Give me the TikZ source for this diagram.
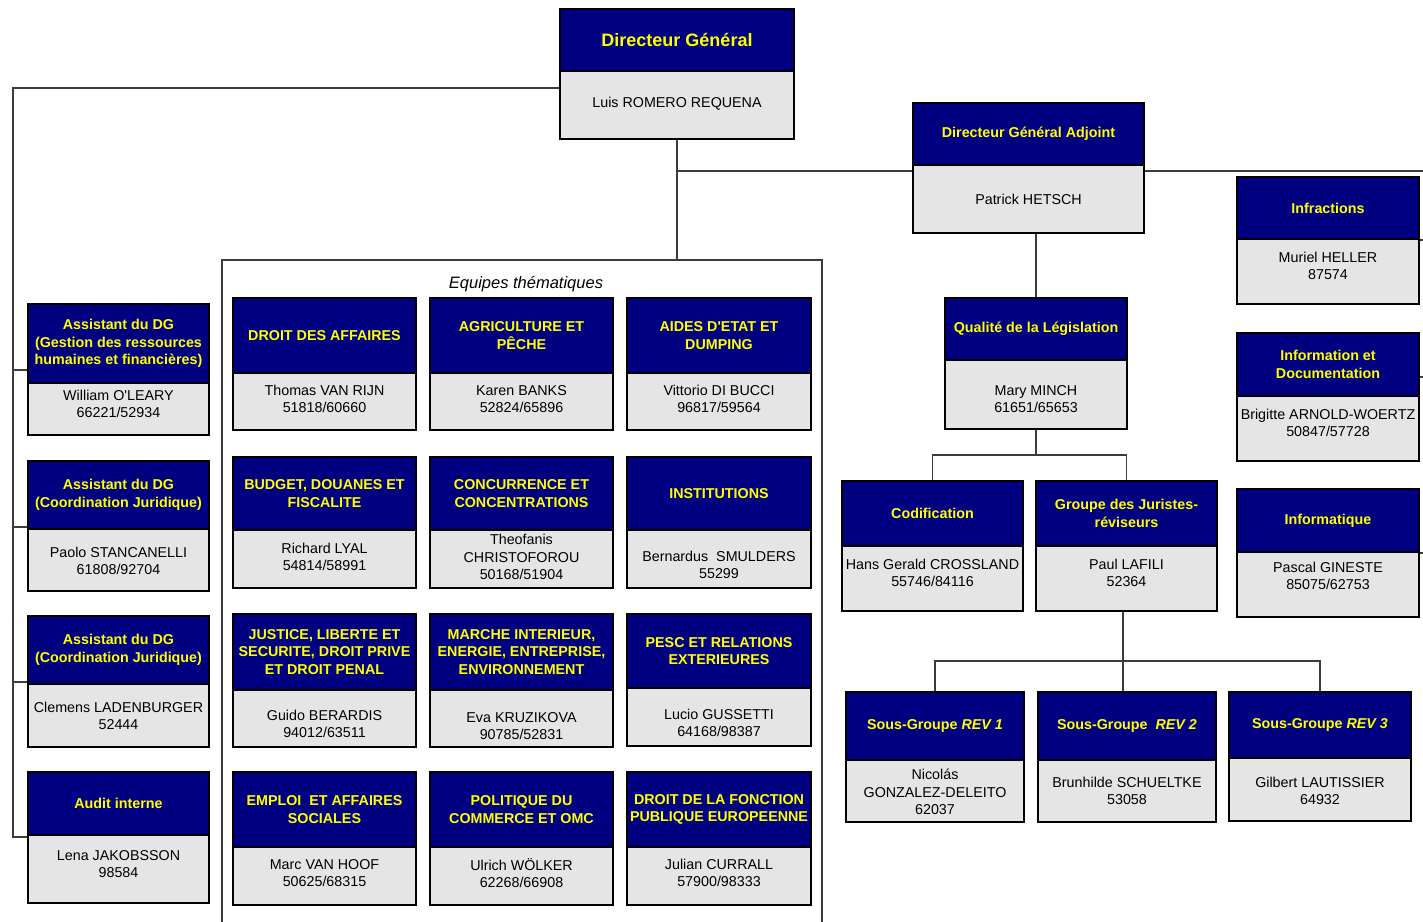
\documentclass[tikz,border=0pt]{standalone}
\usepackage{fontspec}
\setmainfont{Liberation Sans}
\newfontfamily\plainarial{Liberation Sans}
\newcommand\sq{{\plainarial\char"27}}
\usetikzlibrary{fit}
\definecolor{navy}{RGB}{0,0,128}
\definecolor{ylw}{RGB}{255,255,0}
\definecolor{lgray}{RGB}{229,229,229}
\definecolor{conn}{RGB}{60,60,60}
\tikzset{
  boxframe/.style={draw=black, line width=2pt, inner sep=0pt},
  titletext/.style={text=ylw, font=\bfseries\fontsize{14.3}{17.5}\selectfont, align=center, inner sep=0pt},
  bodytext/.style={text=black, font=\fontsize{14.3}{17.5}\selectfont, align=center, inner sep=0pt},
  connector/.style={draw=conn, line width=1.2pt},
  framebox/.style={draw=conn, line width=2pt, inner sep=0pt},
}
% name, x1, y1, x2, y2, ydiv, ybody, title, body
\newcommand\obox[9]{%
  \fill[lgray] (#2,#3) rectangle (#4,#5);
  \fill[navy] (#2,#3) rectangle (#4,#6);
  \draw[line width=1.5pt] (#2,#6) -- (#4,#6);
  \node[boxframe, fit={(#2,#3) (#4,#5)}] (#1) {};
  \node[titletext] (#1-t) at ({(#2+#4)/2},{(#3+#6)/2}) {#8};
  \node[bodytext] (#1-b) at ({(#2+#4)/2},#7) {#9};
}
\begin{document}
\begin{tikzpicture}[x=1pt,y=-1pt]
\useasboundingbox (0,0) rectangle (1423,921);
\fill[white] (0,0) rectangle (1423,921);

% frame of thematic teams
\node[framebox, fit={(222,260) (822,930)}] (frame) {};
\node[font=\itshape\fontsize{16.5}{20}\selectfont, inner sep=0pt] (eqt) at (526,284) {Equipes thématiques};

% Directeur general
\fill[lgray] (560,9) rectangle (794,139);
\fill[navy] (560,9) rectangle (794,71);
\draw[line width=1.5pt] (560,71) -- (794,71);
\node[boxframe, fit={(560,9) (794,139)}] (dg) {};
\node[titletext, font=\bfseries\fontsize{18}{22}\selectfont] (dg-t) at (677,40) {Directeur Général};
\node[bodytext] (dg-b) at (677,104) {Luis ROMERO REQUENA};

\obox{dga}{913}{103}{1144}{233}{165}{199}{Directeur Général Adjoint}{Patrick HETSCH}

% right column
\obox{inf}{1237}{177}{1419}{304}{239}{266}{Infractions}{Muriel HELLER\\87574}
\obox{idoc}{1237}{333}{1419}{461}{396}{423}{Information et\\Documentation}{Brigitte ARNOLD-WOERTZ\\50847/57728}
\obox{infq}{1237}{489}{1419}{617}{552}{576}{Informatique}{Pascal GINESTE\\85075/62753}

% legislation quality
\obox{qual}{945}{298}{1127}{429}{360}{399}{Qualité de la Législation}{Mary MINCH\\61651/65653}
\obox{cod}{842}{481}{1023}{611}{546}{573}{Codification}{Hans Gerald CROSSLAND\\55746/84116}
\obox{grp}{1036}{481}{1217}{611}{546}{573}{Groupe des Juristes-\\réviseurs}{Paul LAFILI\\52364}
\obox{sgA}{846}{692}{1024}{822}{760}{792}{Sous-Groupe \textit{REV 1}}{Nicolás\\GONZALEZ-DELEITO\\62037}
\obox{sgB}{1038}{692}{1216}{822}{760}{791}{Sous-Groupe~ \textit{REV 2}}{Brunhilde SCHUELTKE\\53058}
\obox{sgC}{1229}{692}{1411}{821}{758}{791}{Sous-Groupe \textit{REV 3}}{Gilbert LAUTISSIER\\64932}

% left column
\obox{asA}{28}{304}{209}{435}{383}{404}{Assistant du DG\\(Gestion des ressources\\humaines et financières)}{William O\sq LEARY\\66221/52934}
\obox{asB}{28}{461}{209}{591}{529}{561}{Assistant du DG\\(Coordination Juridique)}{Paolo STANCANELLI\\61808/92704}
\obox{asC}{28}{616}{209}{747}{684}{716}{Assistant du DG\\(Coordination Juridique)}{Clemens LADENBURGER\\52444}
\obox{aud}{28}{772}{209}{903}{835}{864}{Audit interne}{Lena JAKOBSSON\\98584}

% thematic teams
\obox{tAa}{233}{298}{416}{430}{373}{399}{DROIT DES AFFAIRES}{Thomas VAN RIJN\\51818/60660}
\obox{tAb}{430}{298}{613}{430}{373}{399}{AGRICULTURE ET\\PÊCHE}{Karen BANKS\\52824/65896}
\obox{tAc}{627}{298}{811}{430}{373}{399}{AIDES D\sq ETAT ET\\DUMPING}{Vittorio DI BUCCI\\96817/59564}
\obox{tBa}{233}{457}{416}{588}{530}{557}{BUDGET, DOUANES ET\\FISCALITE}{Richard LYAL\\54814/58991}
\obox{tBb}{430}{457}{613}{588}{530}{557}{CONCURRENCE ET\\CONCENTRATIONS}{Theofanis\\CHRISTOFOROU\\50168/51904}
\obox{tBc}{627}{457}{811}{588}{530}{565}{INSTITUTIONS}{Bernardus~ SMULDERS\\55299}
\obox{tCa}{233}{614}{416}{747}{690}{724}{JUSTICE, LIBERTE ET\\SECURITE, DROIT PRIVE\\ET DROIT PENAL}{Guido BERARDIS\\94012/63511}
\obox{tCb}{430}{614}{613}{747}{690}{726}{MARCHE INTERIEUR,\\ENERGIE, ENTREPRISE,\\ENVIRONNEMENT}{Eva KRUZIKOVA\\90785/52831}
\obox{tCc}{627}{614}{811}{746}{688}{723}{PESC ET RELATIONS\\EXTERIEURES}{Lucio GUSSETTI\\64168/98387}
\obox{tDa}{233}{772}{416}{905}{847}{873}{EMPLOI~ ET AFFAIRES\\SOCIALES}{Marc VAN HOOF\\50625/68315}
\obox{tDb}{430}{772}{613}{905}{847}{873}{POLITIQUE DU\\COMMERCE ET OMC}{Ulrich WÖLKER\\62268/66908}
\obox{tDc}{627}{772}{811}{905}{847}{873}{DROIT DE LA FONCTION\\PUBLIQUE EUROPEENNE}{Julian CURRALL\\57900/98333}

% connectors: left spine
\coordinate (Ltop) at (13,88);
\coordinate (Lbot) at (13,837);
\coordinate (LyA) at (13,370);
\coordinate (LyB) at (13,527);
\coordinate (LyC) at (13,682);
\draw[connector] (dg.west |- Ltop) -- (Ltop) -- (Lbot) -- (aud.west |- Lbot);
\draw[connector] (LyA) -- (asA.west |- LyA);
\draw[connector] (LyB) -- (asB.west |- LyB);
\draw[connector] (LyC) -- (asC.west |- LyC);

% DG down to teams frame and to DGA
\coordinate (J1) at (677,171);
\draw[connector] (dg.south) -- (dg.south |- frame.north);
\draw[connector] (J1) -- (dga.west |- J1);
\coordinate (Rtop) at (1426,171);
\coordinate (Rbot) at (1426,553);
\coordinate (RyA) at (1426,240);
\coordinate (RyB) at (1426,377);
\draw[connector] (dga.east |- Rtop) -- (Rtop) -- (Rbot) -- (infq.east |- Rbot);
\draw[connector] (inf.east |- RyA) -- (RyA);
\draw[connector] (idoc.east |- RyB) -- (RyB);

% DGA to quality
\draw[connector] (qual.north) -- (qual.north |- dga.south);
\coordinate (J2) at (1036,455);
\draw[connector] (qual.south) -- (qual.south |- J2);
\draw[connector] (cod.north) -- (cod.north |- J2) -- (grp.north |- J2) -- (grp.north);

% Groupe to sub-groups
\coordinate (J3) at (1123,661);
\draw[connector] (J3 |- grp.south) -- (J3 |- sgB.north);
\draw[connector] (sgA.north) -- (sgA.north |- J3) -- (sgC.north |- J3) -- (sgC.north);
\end{tikzpicture}
\end{document}
